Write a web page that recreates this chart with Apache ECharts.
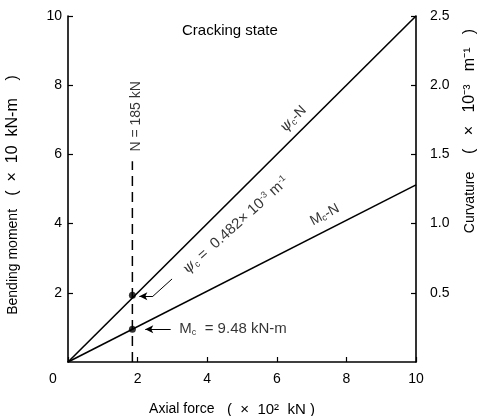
<!DOCTYPE html>
<html>
<head>
<meta charset="utf-8">
<script src="https://cdn.jsdelivr.net/npm/echarts@6/dist/echarts.min.js"></script>
<style>html,body{margin:0;padding:0;background:#fff;}#c{width:479px;height:416px;}</style>
</head>
<body>
<div id="c"></div>
<script>
// Data (axial force in ×10^2 kN)
const axialForce = [0, 10];
const momentMc = [0, 5.12];        // ×10 kN-m
const curvaturePsi = [0, 2.5];     // ×10^-3 m^-1
const crackN = 1.85;               // ×10^2 kN  (185 kN)
const crackMoment = 0.948;         // ×10 kN-m  (9.48 kN-m)
const crackCurvature = 0.482;      // ×10^-3 m^-1
const xTicks = [0, 2, 4, 6, 8, 10];
const leftTicks = [0, 2, 4, 6, 8, 10];
const rightTicks = [0, 0.5, 1.0, 1.5, 2.0, 2.5];

const FONT = 'Liberation Sans';
const chart = echarts.init(document.getElementById('c'), null, {renderer: 'canvas'});

const axisCommon = {
  axisLine: {show: true, lineStyle: {color: '#000', width: 1.6}},
  axisTick: {show: true, inside: true, length: 5, lineStyle: {color: '#000', width: 1.2}},
  splitLine: {show: false},
  axisLabel: {color: '#000', fontFamily: FONT, fontSize: 14},
  nameTextStyle: {color: '#000', fontFamily: FONT, fontSize: 14}
};

const nameRich = {
  a: {fontFamily: FONT, fontSize: 14, color: '#000'},
  b: {fontFamily: FONT, fontSize: 16, color: '#000'},
  c: {fontFamily: FONT, fontSize: 15, color: '#000'}
};

const psiRich = {
  p: {fontFamily: 'DejaVu Serif', fontStyle: 'italic', fontSize: 15, color: '#000'},
  s: {fontFamily: FONT, fontSize: 9, color: '#000', verticalAlign: 'bottom', padding: [5, 0, 0, 0]},
  t: {fontFamily: FONT, fontSize: 14, color: '#000'},
  v: {fontFamily: FONT, fontSize: 15, color: '#000'},
  u: {fontFamily: FONT, fontSize: 9, color: '#000', padding: [0, 0, 7, 0]}
};

chart.setOption({
  animation: false,
  backgroundColor: '#fff',
  title: {
    text: 'Cracking state', left: 182, top: 23, padding: 0,
    textStyle: {fontFamily: FONT, fontSize: 15, fontWeight: 'normal', color: '#000'}
  },
  grid: {left: 68, right: 63, top: 16, bottom: 54, outerBoundsMode: 'none', containLabel: false},
  xAxis: Object.assign({}, axisCommon, {
    type: 'value', min: xTicks[0], max: xTicks[xTicks.length - 1], interval: 2,
    name: '{a|Axial force}{c|   (  ×  10²  kN )}', nameLocation: 'middle', nameGap: 40,
    nameTextStyle: Object.assign({}, axisCommon.nameTextStyle, {padding: [0, 20, 0, 0], rich: nameRich}),
    axisLabel: Object.assign({}, axisCommon.axisLabel, {
      margin: 10,
      formatter: v => v === 0 ? '{z|0}' : String(v),
      rich: {z: {fontFamily: FONT, fontSize: 14, color: '#000', padding: [0, 30, 0, 0]}}
    })
  }),
  yAxis: [
    Object.assign({}, axisCommon, {
      type: 'value', min: leftTicks[0], max: leftTicks[leftTicks.length - 1], interval: 2,
      position: 'left',
      name: '{a|Bending moment}{b|   (  ×  10  kN-m    )}', nameLocation: 'middle', nameGap: 47,
      nameTextStyle: Object.assign({}, axisCommon.nameTextStyle, {padding: [0, 12, 0, 0], rich: nameRich}),
      axisLabel: Object.assign({}, axisCommon.axisLabel, {showMinLabel: false, margin: 6})
    }),
    Object.assign({}, axisCommon, {
      type: 'value', min: rightTicks[0], max: rightTicks[rightTicks.length - 1], interval: 0.5,
      position: 'right',
      name: '{a|Curvature}{b|    (   ×   10⁻³   m⁻¹   )}', nameLocation: 'middle', nameGap: 46,
      nameTextStyle: Object.assign({}, axisCommon.nameTextStyle, {padding: [0, 0, 0, 116], rich: nameRich}),
      axisLabel: Object.assign({}, axisCommon.axisLabel, {showMinLabel: false, margin: 14,
        formatter: v => v.toFixed(1)})
    })
  ],
  series: [
    {
      name: 'psi-N', type: 'line', yAxisIndex: 1, symbol: 'none',
      data: axialForce.map((x, i) => [x, curvaturePsi[i]]),
      lineStyle: {color: '#000', width: 1.6}
    },
    {
      name: 'Mc-N', type: 'line', yAxisIndex: 0, symbol: 'none',
      data: axialForce.map((x, i) => [x, momentMc[i]]),
      lineStyle: {color: '#000', width: 1.6}
    },
    {
      name: 'N=185', type: 'line', yAxisIndex: 0, symbol: 'none',
      data: [[crackN, 0], [crackN, 5.8]],
      lineStyle: {color: '#000', width: 1.5, type: [10, 6]},
      markLine: {
        silent: true, symbol: ['none', 'none'],
        lineStyle: {color: '#000', width: 1, type: 'solid'},
        label: {show: false},
        data: [
          [{coord: [2.95, crackMoment], symbol: 'none'}, {coord: [2.22, crackMoment], symbol: 'arrow', symbolSize: [6, 8]}],
          [{coord: [2.99, 2.40], symbol: 'none'}, {coord: [2.44, 1.9], symbol: 'none'}],
          [{coord: [2.44, 1.9], symbol: 'none'}, {coord: [2.05, 1.9], symbol: 'arrow', symbolSize: [6, 8]}]
        ]
      }
    },
    {
      name: 'points', type: 'scatter', yAxisIndex: 0, symbolSize: 7,
      itemStyle: {color: '#000'},
      data: [[crackN, crackMoment], [crackN, crackCurvature * 4]]
    },
    {
      name: 'labels', type: 'scatter', yAxisIndex: 0, symbolSize: 0, silent: true,
      label: {show: true, position: 'inside', color: '#000', fontFamily: FONT, fontSize: 14},
      data: [
        {value: [1.95, 7.1], label: {rotate: 90, formatter: 'N = 185 kN'}},
        {value: [6.47, 7.02], label: {rotate: 45, formatter: '{p|ψ}{s|c}{t|-N}', rich: psiRich}},
        {value: [7.38, 4.25], label: {rotate: 28, formatter: '{t|M}{s|c}{t|-N}', rich: psiRich}},
        {value: [4.82, 3.95], label: {rotate: 42, formatter: '{p|ψ}{s|c}{v| =  0.482× 10}{u|-3}{v| m}{u|-1}', rich: psiRich}},
        {value: [3.2, crackMoment], label: {position: 'right', distance: 0, formatter: '{v|M}{s|c}{v|  = 9.48 kN-m}', rich: psiRich}}
      ]
    }
  ]
});
</script>
</body>
</html>
